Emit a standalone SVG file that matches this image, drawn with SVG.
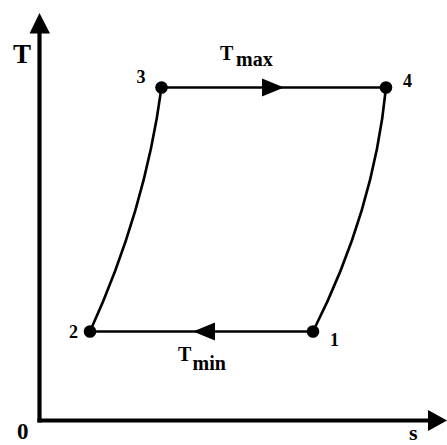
<svg xmlns="http://www.w3.org/2000/svg" width="447" height="445" viewBox="0 0 447 445">
<style>
.lbl{font-family:"Liberation Serif","Times New Roman",serif;font-weight:bold;fill:#000}
.cyc{stroke:#000;stroke-width:2.6;fill:none}
.axis{stroke:#000;stroke-width:4.2;fill:none}
.dot{fill:#000}
</style>
<rect width="447" height="445" fill="#fff"/>
<g id="axes">
<line class="axis" x1="39.5" y1="30" x2="39.5" y2="422.5"/>
<line class="axis" x1="37.5" y1="420.5" x2="430" y2="420.5"/>
<polygon points="39.5,13 29.5,33.5 50,33.5" fill="#000"/>
<polygon points="447,420.5 428,410 428,431" fill="#000"/>
<text class="lbl" x="17" y="439" font-size="23">0</text>
<text class="lbl" x="13" y="63" font-size="27">T</text>
<text class="lbl" x="409" y="440" font-size="22">s</text>
</g>
<g id="connectors">
<line class="cyc" x1="161.5" y1="87.5" x2="386" y2="87.5"/>
<polygon points="284,87.5 262,78.5 262,96.5" fill="#000"/>
<line class="cyc" x1="313" y1="331.5" x2="90" y2="331.5"/>
<polygon points="193,331.5 215,322.5 215,340.5" fill="#000"/>
<path class="cyc" d="M161.5,87.5 Q145,211 90,331.5"/>
<path class="cyc" d="M386,87.5 Q374,211 313,331.5"/>
<text class="lbl" x="220" y="60" font-size="20">T</text>
<text class="lbl" x="236" y="66" font-size="20">max</text>
<text class="lbl" x="178" y="361" font-size="20">T</text>
<text class="lbl" x="192.5" y="370" font-size="20">min</text>
</g>
<g id="node3">
<circle class="dot" cx="161.5" cy="87.5" r="6.3"/>
<text class="lbl" x="136.5" y="83" font-size="18">3</text>
</g>
<g id="node4">
<circle class="dot" cx="386" cy="87.5" r="6.3"/>
<text class="lbl" x="403" y="87" font-size="18">4</text>
</g>
<g id="node2">
<circle class="dot" cx="90" cy="331.5" r="6.3"/>
<text class="lbl" x="69" y="338" font-size="18">2</text>
</g>
<g id="node1">
<circle class="dot" cx="313" cy="331.5" r="6.3"/>
<text class="lbl" x="330" y="346" font-size="18">1</text>
</g>
</svg>
